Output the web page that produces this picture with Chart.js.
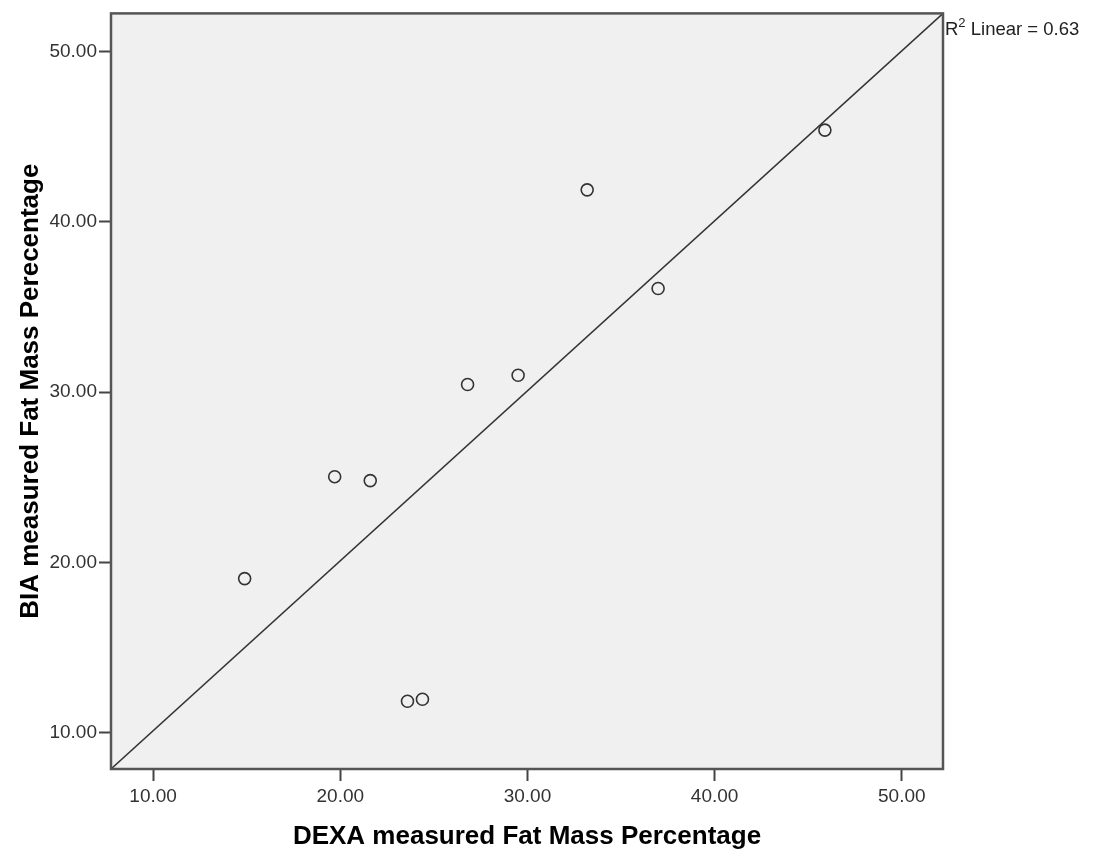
<!DOCTYPE html>
<html>
<head>
<meta charset="utf-8">
<script src="https://cdn.jsdelivr.net/npm/chart.js@4"></script>
<style>
  html, body { margin: 0; padding: 0; background: #fff; }
  #wrap { width: 1096px; height: 850px; }
</style>
</head>
<body>
<div id="wrap"><canvas id="fatChart" width="1096" height="850"></canvas></div>
<script>
// DEXA vs BIA fat mass percentage
const dexaValues = [14.89, 19.70, 21.60, 23.59, 24.39, 26.80, 29.50, 33.19, 36.98, 45.89];
const biaValues = [19.04, 25.03, 24.80, 11.83, 11.95, 30.45, 30.99, 41.89, 36.09, 45.40];

// fit line end points (runs corner to corner of the plot)
const fitX = [7.75, 52.2];
const fitY = [7.85, 52.26];

const tickValues = [10, 20, 30, 40, 50];
const fitLabel = 'Linear = 0.63';

const FONT = "'Liberation Sans', Arial, sans-serif";

const plotFrame = {
  id: 'plotFrame',
  beforeDraw(chart) {
    const { ctx, chartArea: a } = chart;
    ctx.save();
    ctx.fillStyle = '#f0f0f0';
    ctx.fillRect(a.left, a.top, a.right - a.left, a.bottom - a.top);
    ctx.restore();
  },
  afterDraw(chart) {
    const { ctx, chartArea: a } = chart;
    ctx.save();
    ctx.strokeStyle = '#555';
    ctx.lineWidth = 2.5;
    ctx.strokeRect(a.left, a.top, a.right - a.left, a.bottom - a.top);

    // R² label at the end of the fit line
    ctx.fillStyle = '#222';
    ctx.textBaseline = 'alphabetic';
    ctx.textAlign = 'left';
    let x = a.right + 2;
    const y = a.top + 22;
    ctx.font = '18.5px ' + FONT;
    ctx.fillText('R', x, y);
    x += ctx.measureText('R').width;
    ctx.font = '13px ' + FONT;
    ctx.fillText('2', x, y - 8);
    x += ctx.measureText('2').width;
    ctx.font = '18.5px ' + FONT;
    ctx.fillText(' ' + fitLabel, x, y);
    ctx.restore();
  }
};

function keepTicks(scale) {
  scale.ticks = tickValues.map(v => ({ value: v }));
}

const ctx = document.getElementById('fatChart').getContext('2d');

const chart = new Chart(ctx, {
  type: 'scatter',
  data: {
    datasets: [
      {
        type: 'line',
        label: 'fit',
        data: fitX.map((x, i) => ({ x: x, y: fitY[i] })),
        borderColor: '#333',
        borderWidth: 1.5,
        pointRadius: 0,
        fill: false,
      },
      {
        label: 'subjects',
        data: dexaValues.map((x, i) => ({ x: x, y: biaValues[i] })),
        pointStyle: 'circle',
        pointRadius: 6,
        pointBorderWidth: 1.6,
        pointBorderColor: '#333',
        pointBackgroundColor: 'rgba(0,0,0,0)',
      },
    ],
  },
  options: {
    responsive: false,
    animation: false,
    layout: { padding: { left: 0, top: 11, right: 153, bottom: 0 } },
    plugins: {
      legend: { display: false },
      tooltip: { enabled: false },
    },
    scales: {
      x: {
        type: 'linear',
        min: fitX[0],
        max: fitX[1],
        afterBuildTicks: keepTicks,
        afterFit(scale) { scale.height = 81; },
        border: { display: false },
        grid: {
          drawOnChartArea: false,
          drawTicks: true,
          tickLength: 12,
          tickWidth: 2,
          tickColor: '#444',
        },
        ticks: {
          padding: 4,
          color: '#333',
          font: { family: FONT, size: 19 },
          callback: v => v.toFixed(2),
        },
        title: {
          display: true,
          text: 'DEXA measured Fat Mass Percentage',
          color: '#000',
          font: { family: FONT, size: 26, weight: 'bold', lineHeight: 1.0 },
          padding: { top: 0, bottom: 0 },
        },
      },
      y: {
        type: 'linear',
        min: fitY[0],
        max: fitY[1],
        afterBuildTicks: keepTicks,
        afterFit(scale) { scale.width = 111; },
        border: { display: false },
        grid: {
          drawOnChartArea: false,
          drawTicks: true,
          tickLength: 12,
          tickWidth: 2,
          tickColor: '#444',
        },
        ticks: {
          padding: 2,
          color: '#333',
          font: { family: FONT, size: 19 },
          callback: v => v.toFixed(2),
        },
        title: {
          display: true,
          text: 'BIA measured Fat Mass Perecentage',
          color: '#000',
          font: { family: FONT, size: 26, weight: 'bold', lineHeight: 1.2 },
          padding: { top: 15, bottom: 0 },
        },
      },
    },
  },
  plugins: [plotFrame],
});
</script>
</body>
</html>
